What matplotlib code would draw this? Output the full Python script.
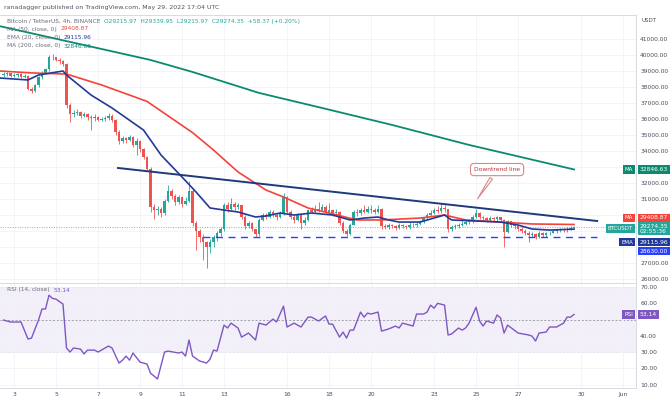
import matplotlib.pyplot as plt
from matplotlib.transforms import blended_transform_factory

plt.rcParams['font.family'] = ['DejaVu Sans']

# BTCUSDT 4h candles, first bar = May 2 12:00 UTC
close = [38800, 38850, 38700, 38750, 38800, 38650, 38700, 37900, 37750, 38100,
         38600, 38900, 39100, 39900, 39850, 39700, 39600, 39450, 36900, 36300,
         36350, 36450, 36200, 36300, 36100, 36050, 36150, 35950, 36000, 36050,
         36200, 35950, 35200, 34600, 34800, 34700, 34900, 34400, 34650, 34100,
         33600, 32900, 30500, 30300, 30400, 30100, 30900, 31500, 31200, 30800,
         31100, 30700, 30900, 31500, 29500, 29000, 28600, 28300, 28000, 28300,
         28600, 28900, 29100, 30600, 30400, 30700, 30500, 30600, 29900, 29300,
         29500, 29100, 28800, 29700, 30000, 29900, 30200, 30000, 29900, 30100,
         31100, 30200, 29900, 29700, 30000, 29500, 29700, 30300, 30200, 30400,
         30300, 30500, 30200, 30300, 30100, 30200, 29500, 29000, 28800, 29400,
         30200, 30100, 30300, 30200, 30400, 30300, 30200, 30400, 29300, 29250,
         29350, 29300, 29200, 29350, 29300, 29250, 29400, 29350, 29450, 29600,
         29800, 30000, 30150, 30300, 30250, 30450, 30350, 29100, 29250, 29300,
         29400, 29450, 29550, 29600, 29900, 30150, 29850, 29800, 29700, 29800,
         29750, 29850, 29700, 28950, 29600, 29400, 29300, 29150, 29000, 28900,
         28750, 28800, 28650, 28900, 28750, 28850, 28900, 29000, 29050, 29100,
         29050, 29150, 29215.97, 29274.35]
high = [38950, 38950, 38900, 38850, 38900, 38850, 38800, 38750, 38000, 38200,
        38700, 39000, 39200, 40000, 40050, 39900, 39800, 39700, 39500, 37000,
        36550, 36600, 36500, 36450, 36400, 36250, 36300, 36200, 36150, 36200,
        36350, 36300, 36000, 35300, 34950, 34900, 35000, 34950, 34800, 34700,
        34200, 33700, 33000, 30700, 30550, 30500, 31000, 31900, 31650, 31300,
        31250, 31200, 31100, 32100, 31600, 29600, 29100, 28800, 28400, 28500,
        28750, 29000, 29250, 30750, 30800, 31050, 30800, 30750, 30650, 30000,
        29650, 29550, 29150, 29800, 30150, 30150, 30300, 30300, 30100, 30250,
        31400, 31200, 30300, 30000, 30100, 30050, 29850, 30400, 30500, 30600,
        30800, 30700, 30600, 30750, 30400, 30350, 30250, 29600, 29100, 29500,
        30300, 30350, 30450, 30650, 30550, 30650, 30450, 30600, 30450, 29450,
        29500, 29450, 29400, 29500, 29450, 29400, 29550, 29500, 29600, 29700,
        29900, 30100, 30300, 30450, 30550, 30750, 30600, 30400, 29400, 29450,
        29500, 29600, 29700, 29750, 30000, 30350, 30200, 29950, 29900, 29950,
        29900, 29950, 29900, 29750, 29700, 29650, 29500, 29400, 29250, 29100,
        29000, 28950, 28900, 29000, 28950, 28950, 29000, 29100, 29150, 29200,
        29200, 29250, 29300, 29339.95]
low = [38650, 38700, 38600, 38600, 38650, 38550, 38550, 37800, 37650, 37700,
       38000, 38500, 38800, 39000, 39700, 39600, 39450, 39300, 36700, 35800,
       36100, 36250, 36050, 36100, 35950, 35300, 35900, 35850, 35850, 35900,
       35950, 35800, 35000, 34450, 34500, 34500, 34600, 34250, 33750, 33950,
       33500, 32750, 30200, 29750, 30000, 29900, 30000, 30800, 31000, 30600,
       30700, 30500, 30600, 30800, 29300, 27800, 28300, 27200, 26700, 27600,
       28000, 28400, 28700, 29000, 30200, 30300, 30300, 30350, 29750, 29100,
       29200, 29000, 28630, 28700, 29600, 29750, 29800, 29850, 29700, 29800,
       30000, 30100, 29750, 29500, 29600, 29100, 29400, 29650, 30100, 30100,
       30200, 30250, 30100, 30100, 29950, 30000, 29400, 28850, 28700, 28750,
       29350, 29950, 30000, 30100, 30100, 30150, 30050, 30100, 29150, 29100,
       29150, 29200, 29050, 29100, 29200, 29150, 29150, 29250, 29250, 29350,
       29500, 29700, 29950, 30050, 30100, 30150, 30200, 28950, 29000, 29150,
       29200, 29300, 29350, 29450, 29500, 29800, 29750, 29650, 29550, 29600,
       29600, 29650, 29550, 28000, 28850, 29250, 29150, 29000, 28850, 28750,
       28300, 28600, 28500, 28550, 28600, 28650, 28750, 28850, 28900, 28950,
       28950, 28950, 29050, 29215.97]
open_ = [38750] + close[:-1]

# indicator lines (bar index, value)
ema20_bar = [-1, 7, 10, 17, 18, 25, 31, 40, 45, 51, 55, 59, 63, 67, 72, 75, 79,
             83, 88, 94, 99, 103, 107, 110, 113, 119, 126, 128, 142, 147, 151, 156, 163]
ema20 = [38560, 38440, 38750, 39000, 38750, 37500, 36690, 35310, 33750, 32375,
         31440, 30440, 30310, 30190, 29875, 29940, 30125, 30000, 30125, 30000,
         29690, 29810, 29875, 29690, 29560, 29560, 30000, 29690, 29560, 29375,
         29125, 29060, 29115.96]
ma50_bar = [-1, 8, 18, 28, 41, 54, 60, 67, 75, 80, 87, 93, 101, 108, 119, 126,
            132, 142, 151, 163]
ma50 = [39000, 38880, 38810, 38130, 37100, 35150, 34060, 32690, 31560, 31125,
        30440, 30125, 29690, 29690, 29810, 30000, 29690, 29560, 29440, 29408.87]
ma200_bar = [-1, 42, 54, 73, 91, 111, 133, 163]
ma200 = [41800, 39690, 38940, 37630, 36690, 35630, 34380, 32846.63]

trend_bar = [32.7, 169.6]
trend_price = [32940, 29625]
support = 28630.00
support_bar = [57, 169.6]

rsi_bar = [0, 2, 5, 7, 8, 10, 11, 12, 13, 14, 15, 17, 18, 19, 20, 22, 23, 24, 26, 27,
           30, 31, 33, 34, 35, 36, 37, 39, 41, 42, 44, 46, 47, 50, 51, 52, 53, 54, 56, 58,
           59, 60, 61, 63, 64, 65, 67, 68, 70, 72, 73, 75, 77, 78, 80, 81, 83, 85, 87, 88,
           90, 92, 93, 94, 96, 97, 98, 99, 100, 102, 103, 104, 105, 107, 108, 110, 112,
           113, 114, 117, 118, 120, 121, 122, 123, 124, 126, 127, 128, 130, 131, 132, 133,
           135, 136, 137, 138, 140, 141, 142, 143, 144, 147, 150, 151, 152, 153, 155, 156,
           158, 160, 161, 162, 163]
rsi = [49.7, 48.5, 48.5, 38.0, 38.6, 49.7, 56.5, 56.5, 65.0, 63.0, 62.6, 59.5, 32.5,
       30.0, 32.5, 31.8, 28.8, 31.2, 31.2, 30.0, 33.7, 32.5, 23.2, 25.0, 27.5, 25.0,
       29.4, 23.8, 22.6, 17.0, 13.4, 30.0, 30.6, 29.4, 30.0, 27.5, 37.4, 27.5, 24.5,
       23.2, 25.6, 31.2, 30.6, 46.6, 44.8, 47.8, 44.8, 39.2, 41.7, 37.4, 47.8, 46.6,
       50.3, 48.5, 58.3, 45.4, 47.8, 45.4, 51.5, 51.5, 49.1, 52.2, 47.2, 47.2, 39.2,
       42.3, 38.6, 43.5, 43.5, 54.6, 51.5, 54.0, 53.4, 54.6, 42.9, 44.2, 46.0, 44.8,
       47.8, 46.0, 53.4, 53.4, 54.6, 58.9, 57.0, 60.0, 58.9, 40.5, 41.1, 44.8, 43.5,
       44.8, 47.8, 57.6, 49.1, 46.0, 49.1, 47.8, 52.8, 51.0, 41.7, 46.6, 41.7, 40.5,
       39.8, 36.8, 41.7, 42.3, 45.4, 45.4, 47.8, 51.5, 51.5, 53.14]

tick_days = [3, 5, 7, 9, 11, 13, 16, 18, 20, 23, 25, 27, 30, 32]
tick_labels = ['3', '5', '7', '9', '11', '13', '16', '18', '20', '23', '25', '27', '30', 'Jun']
first_day = 2.5   # May 2 12:00

up, down = '#26a69a', '#ef5350'
grid_c = '#f0f3fa'
txt_c = '#4a4e5a'

fig = plt.figure(figsize=(6.7, 3.98), dpi=100)
ax = fig.add_axes([0, 0.2889, 0.9493, 0.6734])
ax_rsi = fig.add_axes([0, 0.0251, 0.9493, 0.2638], sharex=ax)

# candles
n = len(close)
xs = list(range(n))
cols = [up if c >= o else down for o, c in zip(open_, close)]
ax.vlines(xs, low, high, colors=cols, linewidth=0.6, zorder=3)
bottoms = [min(o, c) for o, c in zip(open_, close)]
heights = [max(abs(c - o), 25) for o, c in zip(open_, close)]
ax.bar(xs, heights, bottom=bottoms, width=0.72, color=cols, linewidth=0, zorder=4)

ax.plot(ma200_bar, ma200, color='#0b8a70', lw=1.3, zorder=5)
ax.plot(ma50_bar, ma50, color='#f4433b', lw=1.2, zorder=5)
ax.plot(ema20_bar, ema20, color='#22399a', lw=1.2, zorder=5)
ax.plot(trend_bar, trend_price, color='#1e3a7b', lw=1.4, zorder=6)
ax.plot(support_bar, [support, support], color='#2941ff', lw=1.0,
        dashes=(5, 4), zorder=6)
ax.axhline(close[-1], color='#5fc4b8', lw=0.7, ls=(0, (1, 1.5)), zorder=2)

ax.annotate('Downtrend line', xy=(135, 30875), xytext=(141, 32840),
            fontsize=4.3, color='#b5313a', ha='center', va='center', zorder=8,
            bbox=dict(boxstyle='round,pad=0.6', fc='white', ec='#d9878a', lw=0.8),
            arrowprops=dict(arrowstyle='wedge,tail_width=0.5,shrink_factor=0.5',
                            fc='white', ec='#d9878a', lw=0.8))

ax.set_xlim(-1, 180.7)
ax.set_ylim(25750, 42500)
ax.yaxis.tick_right()
yt = [p for p in range(26000, 42000, 1000) if p not in (28000, 29000, 30000, 33000)]
ax.set_yticks(yt)
ax.set_yticklabels([f'{p:.2f}' for p in yt])
ax.set_yticks(range(26000, 42000, 1000), minor=True)
ax.grid(True, which='both', color=grid_c, lw=0.6, zorder=0)
ax.tick_params(axis='y', which='both', length=0, pad=3, labelsize=4.3, labelcolor=txt_c)
ax.tick_params(axis='x', length=0, labelbottom=False)

tick_pos = [(d - first_day) * 6 for d in tick_days]
ax.set_xticks(tick_pos)

# RSI pane
ax_rsi.axhspan(30, 70, color='#7e57c2', alpha=0.09, lw=0, zorder=0)
for lv in (70, 50, 30):
    ax_rsi.axhline(lv, color='#9598a1', lw=0.6, ls=(0, (2.5, 2)), zorder=1)
ax_rsi.plot(rsi_bar, rsi, color='#7e57c2', lw=1.0, zorder=3)
ax_rsi.set_ylim(7.85, 72.5)
ax_rsi.yaxis.tick_right()
rsi_ticks = [10, 20, 30, 40, 60, 70]
ax_rsi.set_yticks(rsi_ticks)
ax_rsi.set_yticklabels([f'{v:.2f}' for v in rsi_ticks])
ax_rsi.grid(True, color=grid_c, lw=0.6, zorder=0)
ax_rsi.tick_params(axis='y', length=0, pad=3, labelsize=4.3, labelcolor=txt_c)
ax_rsi.set_xticks(tick_pos)
ax_rsi.set_xticklabels(tick_labels)
ax_rsi.tick_params(axis='x', length=0, pad=3, labelsize=4.3, labelcolor=txt_c)

for a in (ax, ax_rsi):
    for s in a.spines.values():
        s.set_color('#d1d4dc')
        s.set_linewidth(0.6)
    a.spines['left'].set_visible(False)

# price-scale labels
tr = blended_transform_factory(ax.transAxes, ax.transData)
def scale_tag(a, t, y, name, value, color):
    if name:
        a.text(0.9951, y, name, transform=t, ha='right', va='center', fontsize=4.0,
               color='white', zorder=10, clip_on=False,
               bbox=dict(boxstyle='square,pad=0.3', fc=color, ec=color, lw=0))
    a.text(1.006, y, value, transform=t, ha='left', va='center', fontsize=4.3,
           color='white', zorder=10, clip_on=False, linespacing=1.0,
           bbox=dict(boxstyle='square,pad=0.3', fc=color, ec=color, lw=0))

scale_tag(ax, tr, ma200[-1], 'MA', f'{ma200[-1]:.2f}', '#0b8a70')
scale_tag(ax, tr, 29820, 'MA', f'{ma50[-1]:.2f}', '#f4433b')
scale_tag(ax, tr, 29150, 'BTCUSDT', f'{close[-1]:.2f}\n02:55:36', '#26a69a')
scale_tag(ax, tr, 28310, 'EMA', f'{ema20[-1]:.2f}', '#22399a')
scale_tag(ax, tr, 27740, '', f'{support:.2f}', '#2941ff')
tr2 = blended_transform_factory(ax_rsi.transAxes, ax_rsi.transData)
scale_tag(ax_rsi, tr2, rsi[-1], 'RSI', f'{rsi[-1]:.2f}', '#7e57c2')

# overlay for header and legend texts
ov = fig.add_axes([0, 0, 1, 1], zorder=20)
ov.axis('off')
ov.set_xlim(0, 670)
ov.set_ylim(398, 0)

ov.text(641, 20, 'USDT', fontsize=4.0, color=txt_c, va='center')
ov.text(4, 7, 'ranadagger published on TradingView.com, May 29, 2022 17:04 UTC',
        fontsize=4.5, color='#50535e', va='center')

def legend_row(y, label, value, color):
    t = ov.text(7, y, label, fontsize=4.2, color='#6a6d78', va='center')
    ov.annotate(value, xy=(1, 0.5), xycoords=t, xytext=(2.5, 0),
                textcoords='offset points', fontsize=4.2, color=color,
                va='center', ha='left')

legend_row(21, 'Bitcoin / TetherUS, 4h, BINANCE',
           f'O{open_[-1]:.2f}  H{high[-1]:.2f}  L{low[-1]:.2f}  C{close[-1]:.2f}  +58.37 (+0.20%)',
           '#26a69a')
legend_row(29, 'MA (50, close, 0)', f'{ma50[-1]:.2f}', '#f4433b')
legend_row(37.5, 'EMA (20, close, 0)', f'{ema20[-1]:.2f}', '#22399a')
legend_row(46, 'MA (200, close, 0)', f'{ma200[-1]:.2f}', '#0b8a70')
legend_row(290, 'RSI (14, close)', f'{rsi[-1]:.2f}', '#7e57c2')

fig.savefig('out.png', dpi=100, facecolor='white')
